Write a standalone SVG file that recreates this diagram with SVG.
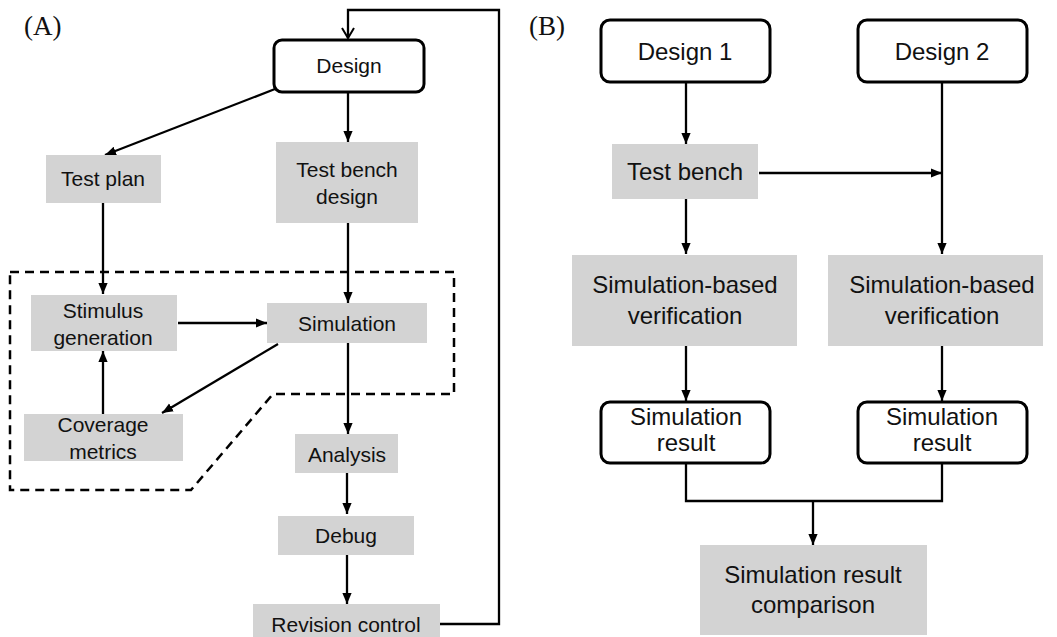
<svg xmlns="http://www.w3.org/2000/svg" width="1057" height="637" viewBox="0 0 1057 637">
<style>
.g{fill:#d3d3d3;stroke:none}
.r{fill:#fff;stroke:#000;stroke-width:3}
.ta{font-family:"Liberation Sans",Arial,sans-serif;font-size:21px;fill:#111;text-anchor:middle}
.tb{font-family:"Liberation Sans",Arial,sans-serif;font-size:24px;fill:#111;text-anchor:middle}
.lbl{font-family:"Liberation Serif","Times New Roman",serif;font-size:27px;fill:#111}
.c{fill:none;stroke:#000;stroke-width:2.3}
.d{fill:none;stroke:#000;stroke-width:2.5;stroke-dasharray:9 6}
</style>
<defs>
<marker id="ah" markerUnits="userSpaceOnUse" markerWidth="11" markerHeight="11" viewBox="0 0 10 10" refX="10" refY="5" orient="auto">
<path d="M0,0.8 L10,5 L0,9.2 Z" fill="#000"/>
</marker>
<marker id="ao" markerUnits="userSpaceOnUse" markerWidth="14" markerHeight="14" viewBox="0 0 14 14" refX="12" refY="7" orient="auto">
<path d="M2,1 L12,7 L2,13" fill="none" stroke="#000" stroke-width="2"/>
</marker>
</defs>
<rect width="1057" height="637" fill="#fff"/>

<text class="lbl" x="24" y="35">(A)</text>
<text class="lbl" x="529" y="35">(B)</text>

<g id="region">
<path class="d" d="M10,272 H454 V394 H273 L191,490 H10 Z"/>
</g>

<g id="connectors">
<path class="c" d="M440,624 H499 V10 H348 V38" marker-end="url(#ao)"/>
<path class="c" d="M275,89 L105,155" marker-end="url(#ah)"/>
<path class="c" d="M348,92 V142" marker-end="url(#ah)"/>
<path class="c" d="M103,203 V294" marker-end="url(#ah)"/>
<path class="c" d="M348,223 V303" marker-end="url(#ah)"/>
<path class="c" d="M178,323 H267" marker-end="url(#ah)"/>
<path class="c" d="M278,344 L162,413" marker-end="url(#ah)"/>
<path class="c" d="M103,414 V351" marker-end="url(#ah)"/>
<path class="c" d="M348,343 V434" marker-end="url(#ah)"/>
<path class="c" d="M347,473 V514" marker-end="url(#ah)"/>
<path class="c" d="M347,555 V604" marker-end="url(#ah)"/>

<path class="c" d="M686,82 V144" marker-end="url(#ah)"/>
<path class="c" d="M759,173 H942" marker-end="url(#ah)"/>
<path class="c" d="M942,82 V254" marker-end="url(#ah)"/>
<path class="c" d="M686,199 V254" marker-end="url(#ah)"/>
<path class="c" d="M686,346 V401" marker-end="url(#ah)"/>
<path class="c" d="M942,346 V401" marker-end="url(#ah)"/>
<path class="c" d="M686,463 V501 H942 V463"/>
<path class="c" d="M813,501 V545" marker-end="url(#ah)"/>
</g>

<g id="design">
<rect class="r" x="274" y="40" width="150" height="52" rx="8"/>
<text class="ta" x="349" y="73">Design</text>
</g>
<g id="testplan">
<rect class="g" x="46" y="155" width="115" height="48"/>
<text class="ta" x="103" y="186">Test plan</text>
</g>
<g id="testbenchdesign">
<rect class="g" x="276" y="142" width="142" height="81"/>
<text class="ta" x="347" y="177">Test bench</text>
<text class="ta" x="347" y="204">design</text>
</g>
<g id="stimulus">
<rect class="g" x="31" y="295" width="146" height="56"/>
<text class="ta" x="103" y="318">Stimulus</text>
<text class="ta" x="103" y="345">generation</text>
</g>
<g id="simulation">
<rect class="g" x="267" y="303" width="160" height="40"/>
<text class="ta" x="347" y="331">Simulation</text>
</g>
<g id="coverage">
<rect class="g" x="24" y="414" width="159" height="47"/>
<text class="ta" x="103" y="432">Coverage</text>
<text class="ta" x="103" y="459">metrics</text>
</g>
<g id="analysis">
<rect class="g" x="295" y="434" width="103" height="39"/>
<text class="ta" x="347" y="462">Analysis</text>
</g>
<g id="debug">
<rect class="g" x="278" y="516" width="136" height="39"/>
<text class="ta" x="346" y="543">Debug</text>
</g>
<g id="revision">
<rect class="g" x="253" y="604" width="187" height="40"/>
<text class="ta" x="346" y="632">Revision control</text>
</g>

<g id="design1">
<rect class="r" x="601" y="20" width="169" height="62" rx="9"/>
<text class="tb" x="685" y="60">Design 1</text>
</g>
<g id="design2">
<rect class="r" x="858" y="20" width="169" height="62" rx="9"/>
<text class="tb" x="942" y="60">Design 2</text>
</g>
<g id="testbench">
<rect class="g" x="612" y="144" width="146" height="55"/>
<text class="tb" x="685" y="180">Test bench</text>
</g>
<g id="simver1">
<rect class="g" x="572" y="255" width="225" height="91"/>
<text class="tb" x="685" y="293">Simulation-based</text>
<text class="tb" x="685" y="324">verification</text>
</g>
<g id="simver2">
<rect class="g" x="828" y="255" width="215" height="91"/>
<text class="tb" x="942" y="293">Simulation-based</text>
<text class="tb" x="942" y="324">verification</text>
</g>
<g id="simres1">
<rect class="r" x="601" y="402" width="169" height="61" rx="9"/>
<text class="tb" x="686" y="425">Simulation</text>
<text class="tb" x="686" y="451">result</text>
</g>
<g id="simres2">
<rect class="r" x="858" y="402" width="169" height="61" rx="9"/>
<text class="tb" x="942" y="425">Simulation</text>
<text class="tb" x="942" y="451">result</text>
</g>
<g id="comparison">
<rect class="g" x="700" y="545" width="227" height="90"/>
<text class="tb" x="813" y="583">Simulation result</text>
<text class="tb" x="813" y="613">comparison</text>
</g>
</svg>
